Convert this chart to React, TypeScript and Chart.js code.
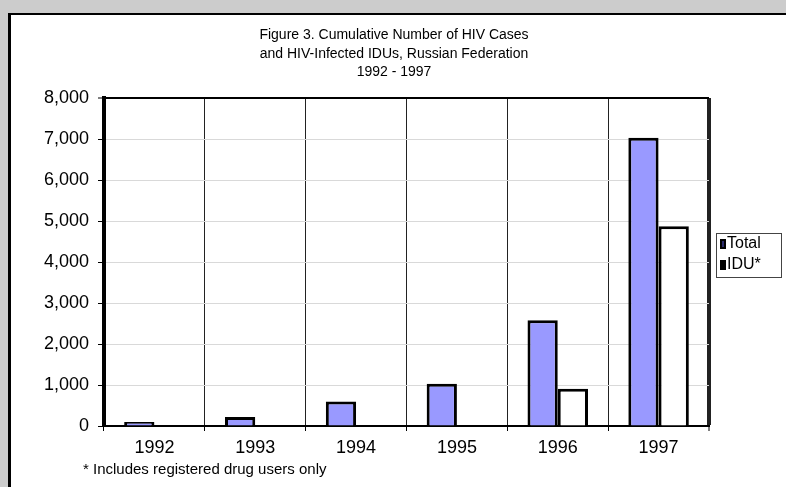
import React, { useEffect, useRef } from 'react';
import { Chart, registerables } from 'chart.js';

Chart.register(...registerables);

const categories = ['1992', '1993', '1994', '1995', '1996', '1997'];
const totalValues = [100, 220, 600, 1030, 2580, 7030];
const iduValues = [0, 0, 0, 0, 910, 4870];
const seriesNames = ['Total', 'IDU*'];
const titleLines = [
  'Figure 3. Cumulative Number of HIV Cases',
  'and HIV-Infected IDUs, Russian Federation',
  '1992 - 1997',
];
const footnote = '* Includes registered drug users only';
const yMin = 0;
const yMax = 8000;
const yStep = 1000;

const FONT = '"Liberation Sans", Arial, sans-serif';

const decorPlugin = {
  id: 'decor',
  beforeDraw(chart: any) {
    const ctx = chart.ctx;
    const W = chart.width;
    const H = chart.height;
    ctx.save();
    ctx.fillStyle = '#cccccc';
    ctx.fillRect(0, 0, W, H);
    ctx.fillStyle = '#000000';
    ctx.fillRect(8, 13, W - 8, H - 13);
    ctx.fillStyle = '#ffffff';
    ctx.fillRect(11, 15, W - 11, H - 15);
    ctx.restore();
  },
  afterDraw(chart: any) {
    const ctx = chart.ctx;
    ctx.save();
    ctx.fillStyle = '#000';
    ctx.font = `14px ${FONT}`;
    ctx.textAlign = 'center';
    ctx.textBaseline = 'middle';
    const ty = [35, 54, 72];
    titleLines.forEach((t, i) => ctx.fillText(t, 394, ty[i]));

    ctx.textAlign = 'left';
    ctx.font = `15px ${FONT}`;
    ctx.fillText(footnote, 83, 470);

    // legend
    ctx.font = `16px ${FONT}`;
    ctx.strokeStyle = '#444';
    ctx.lineWidth = 1;
    ctx.strokeRect(716.5, 233.5, 65, 44);
    const ly = [244, 265];
    seriesNames.forEach((name, i) => {
      ctx.fillStyle = '#000';
      ctx.fillRect(720, ly[i] - 5, 6, 10);
      if (i === 0) {
        ctx.fillStyle = '#2a2a6a';
        ctx.fillRect(722, ly[i] - 3, 2, 6);
      }
      ctx.fillStyle = '#000';
      ctx.fillText(name, 727, ly[i]);
    });
    ctx.restore();
  },
};

export default function App() {
  const ref = useRef<HTMLCanvasElement | null>(null);

  useEffect(() => {
    if (!ref.current) return;
    const chart = new Chart(ref.current, {
      type: 'bar',
      data: {
        labels: categories,
        datasets: [
          {
            label: seriesNames[0],
            data: totalValues,
            backgroundColor: '#9999ff',
            borderColor: '#000',
            borderWidth: 3,
          },
          {
            label: seriesNames[1],
            data: iduValues,
            backgroundColor: '#ffffff',
            borderColor: '#000',
            borderWidth: 3,
          },
        ],
      },
      options: {
        responsive: false,
        animation: false,
        layout: { padding: { left: 0, top: 98, right: 77, bottom: 0 } },
        datasets: { bar: { categoryPercentage: 0.6, barPercentage: 1 } },
        plugins: {
          legend: { display: false },
          title: { display: false },
          tooltip: { enabled: false },
        },
        scales: {
          x: {
            offset: true,
            grid: {
              offset: true,
              color: '#222',
              lineWidth: (c: any) => (c.tick ? 1 : 4),
              tickColor: '#000',
              tickWidth: 1,
              tickLength: 5,
            },
            border: { color: '#000', width: 2 },
            ticks: { color: '#000', font: { family: FONT, size: 18 }, padding: 6 },
            afterFit: (s: any) => {
              s.height = 61;
            },
          },
          y: {
            min: yMin,
            max: yMax,
            ticks: {
              stepSize: yStep,
              color: '#000',
              font: { family: FONT, size: 18 },
              padding: 9,
              callback: (v: any) => Number(v).toLocaleString('en-US'),
            },
            grid: {
              color: (c: any) => (c.tick && c.tick.value === yMax ? '#000' : '#d9d9d9'),
              lineWidth: (c: any) => (c.tick && c.tick.value === yMax ? 2 : 1),
              tickColor: '#000',
              tickWidth: 1,
              tickLength: 6,
            },
            border: { color: '#000', width: 4 },
            afterFit: (s: any) => {
              s.width = 104;
            },
          },
        },
      },
      plugins: [decorPlugin],
    } as any);
    return () => chart.destroy();
  }, []);

  return (
    <div style={{ position: 'fixed', left: 0, top: 0, width: 786, height: 487 }}>
      <canvas ref={ref} width={786} height={487} style={{ display: 'block' }} />
    </div>
  );
}
